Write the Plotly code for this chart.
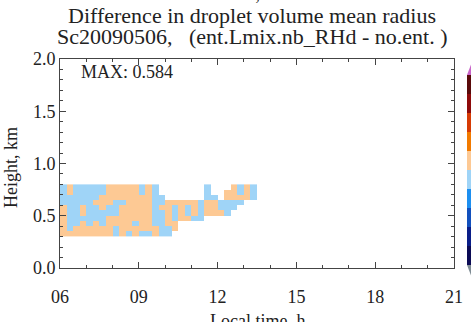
import plotly.graph_objects as go

# ---- data ----
# time bin centres (h) and height bin centres (km)
time_h = [6.125 + 0.25 * i for i in range(30)]
height_km = [0.325 + 0.05 * j for j in range(10)]

# sign of the difference per cell, rows from bottom (0.30-0.35 km) to top (0.75-0.80 km)
# B = small negative, P = small positive, . = no cloud
sign_rows = [
    "PPPPPPPPBPBPBBPBB.............",  # 0.30-0.35
    "PBPPPPPPBPPPPPPBBP............",  # 0.35-0.40
    "PBBPBPBPPPPBPPBBPP............",  # 0.40-0.45
    "PBBBBBBPPPPPPPBBPBPPBB........",  # 0.45-0.50
    "PBBPBBBBBPPPPPBBPBPBPBPPPB....",  # 0.50-0.55
    "PBBPBBPBBPPPPPBPPBPBPBPPBBB...",  # 0.55-0.60
    "BBBBBPPPBBPPPPBBPPPPPBPPBBBB..",  # 0.60-0.65
    "BBBBBBPPPPPPPPBB......BB.PPPPB",  # 0.65-0.70
    "BPBBBBBPPPPPBPB.......B..PPBPB",  # 0.70-0.75
    "BPBBBBBPPPPPBPB.......B...PBPB",  # 0.75-0.80
]
sign_value = {"B": -0.05, "P": 0.05, ".": None}
diff_z = [[sign_value[c] for c in row] for row in sign_rows]

max_text = "MAX: 0.584"
title_line1 = "Difference in droplet volume mean radius"
title_line2 = "Sc20090506,   (ent.Lmix.nb_RHd - no.ent. )"

# colour levels, lowest to highest
level_colors = ["#0b0b55", "#0a1e88", "#1250bd", "#1d8ff0", "#9fd4f7",
                "#fdc994", "#f27a00", "#d63b05", "#8e0b0b", "#5a0a0a"]
zmin, zmax = -0.5, 0.5

colorscale = []
n = len(level_colors)
for i, c in enumerate(level_colors):
    colorscale.append([i / n, c])
    colorscale.append([(i + 1) / n, c])

# ---- layout geometry (pixels) ----
W, H = 471, 322
L, R, T, B = 60, 17, 59, 54
pw, ph = W - L - R, H - T - B


def px_x(p):
    return (p - L) / pw


def px_y(p):
    return (H - B - p) / ph


font_family = "Liberation Serif, Times New Roman, serif"
axis_col = "#444444"

fig = go.Figure()
fig.add_trace(go.Heatmap(
    x=time_h, y=height_km, z=diff_z,
    zmin=zmin, zmax=zmax, colorscale=colorscale,
    hoverongaps=False,
    colorbar=dict(
        x=px_x(467), xanchor="left", xref="paper",
        y=px_y(170), yanchor="middle",
        len=190 / ph, lenmode="fraction",
        thickness=10, thicknessmode="pixels",
        xpad=0, ypad=0,
        showticklabels=False, ticks="",
        outlinewidth=0,
    ),
))

fig.update_layout(
    width=W, height=H,
    margin=dict(l=L, r=R, t=T, b=B, autoexpand=False),
    paper_bgcolor="white", plot_bgcolor="white",
    font=dict(family=font_family, size=18, color="#222222"),
    showlegend=False,
)

fig.update_xaxes(
    range=[6, 21], tick0=6, dtick=3, tickformat="02d",
    ticks="inside", ticklen=6, tickcolor=axis_col, tickwidth=1,
    minor=dict(tick0=6, dtick=1, ticks="inside", ticklen=3, tickcolor=axis_col),
    showline=True, linecolor=axis_col, linewidth=1, mirror="allticks",
    showgrid=False, zeroline=False, ticklabelstandoff=12,
    tickfont=dict(size=18),
)
fig.update_yaxes(
    range=[0, 2], tick0=0, dtick=0.5, tickformat=".1f",
    ticks="inside", ticklen=6, tickcolor=axis_col, tickwidth=1,
    minor=dict(tick0=0, dtick=0.1, ticks="inside", ticklen=3, tickcolor=axis_col),
    showline=True, linecolor=axis_col, linewidth=1, mirror="allticks",
    showgrid=False, zeroline=False,
    tickfont=dict(size=18),
)

ann = [
    dict(text=title_line1, x=px_x(252), y=px_y(16), size=22),
    dict(text=title_line2, x=px_x(252), y=px_y(37), size=22),
]
for a in ann:
    fig.add_annotation(text=a["text"], xref="paper", yref="paper",
                       x=a["x"], y=a["y"], xanchor="center", yanchor="middle",
                       showarrow=False, font=dict(size=a["size"]))

fig.add_annotation(text=max_text, xref="paper", yref="paper",
                   x=px_x(79), y=px_y(72), xanchor="left", yanchor="middle",
                   showarrow=False, font=dict(size=18))
fig.add_annotation(text="Height, km", xref="paper", yref="paper",
                   x=px_x(11), y=px_y(168), xanchor="center", yanchor="middle",
                   textangle=-90, showarrow=False, font=dict(size=18))
fig.add_annotation(text="Local time, h", xref="paper", yref="paper",
                   x=px_x(257), y=px_y(321), xanchor="center", yanchor="middle",
                   showarrow=False, font=dict(size=18))
# clipped x-axis label of the panel above
fig.add_annotation(text="Local time, h", xref="paper", yref="paper",
                   x=px_x(225), y=px_y(-6), xanchor="center", yanchor="middle",
                   showarrow=False, font=dict(size=18))

# colour bar end triangles
cb_l, cb_r = 467, 477
fig.add_shape(type="path", xref="paper", yref="paper",
              path=f"M {px_x(cb_l)} {px_y(75)} L {px_x(cb_r)} {px_y(75)} L {px_x((cb_l + cb_r) / 2)} {px_y(62)} Z",
              fillcolor="#c864c8", line=dict(width=0))
fig.add_shape(type="path", xref="paper", yref="paper",
              path=f"M {px_x(cb_l)} {px_y(265)} L {px_x(cb_r)} {px_y(265)} L {px_x((cb_l + cb_r) / 2)} {px_y(278)} Z",
              fillcolor="#7f8c94", line=dict(width=0))

fig.write_html("out.html")
